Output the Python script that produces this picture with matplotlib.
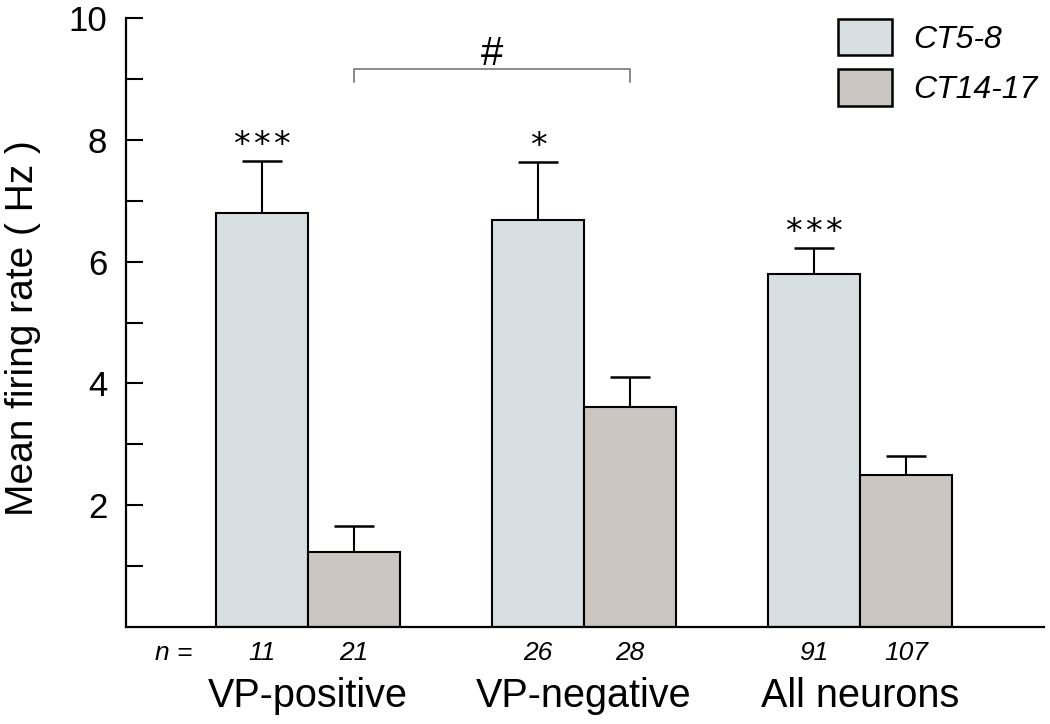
import matplotlib
matplotlib.use("Agg")
import matplotlib.pyplot as plt
import numpy as np
from matplotlib.patches import Patch

# ---- data ----
groups = ["VP-positive", "VP-negative", "All neurons"]
series_names = ["CT5-8", "CT14-17"]
ct58_mean = [6.80, 6.68, 5.80]
ct58_sem = [0.85, 0.95, 0.42]
ct1417_mean = [1.23, 3.62, 2.50]
ct1417_sem = [0.43, 0.48, 0.30]
n_ct58 = ["11", "26", "91"]
n_ct1417 = ["21", "28", "107"]
stars = ["***", "*", "***"]
yticks_major = [2, 4, 6, 8, 10]
yticks_minor = [1, 3, 5, 7, 9]

col58 = "#d8dfe3"
col1417 = "#cbc6c2"

plt.rcParams["font.family"] = ["Liberation Sans", "DejaVu Sans"]

fig = plt.figure(figsize=(10.5, 7.24), dpi=100)
ax = fig.add_axes([0.12, 0.134, 0.8743, 0.841])

x = np.arange(len(groups))
w = 1 / 3
x58 = x - w / 2
x1417 = x + w / 2

ax.bar(x58, ct58_mean, width=w, color=col58, edgecolor="black", linewidth=1.5, zorder=2)
ax.bar(x1417, ct1417_mean, width=w, color=col1417, edgecolor="black", linewidth=1.5, zorder=2)

ax.errorbar(x58, ct58_mean, yerr=[np.zeros(3), ct58_sem], fmt="none", ecolor="black",
            elinewidth=1.5, capsize=14.5, capthick=1.8, zorder=1)
ax.errorbar(x1417, ct1417_mean, yerr=[np.zeros(3), ct1417_sem], fmt="none", ecolor="black",
            elinewidth=1.5, capsize=14.5, capthick=1.8, zorder=1)

ax.set_xlim(-0.659, 2.667)
ax.set_ylim(0, 10)
ax.spines["top"].set_visible(False)
ax.spines["right"].set_visible(False)
ax.spines["left"].set_linewidth(1.6)
ax.spines["bottom"].set_linewidth(1.6)
ax.spines["left"].set_bounds(0, 10)

ax.set_yticks(yticks_major)
ax.set_yticklabels([str(v) for v in yticks_major])
ax.set_yticks(yticks_minor, minor=True)
ax.tick_params(axis="y", which="both", direction="in", length=12.5, width=1.5, pad=13.5,
               labelsize=25)
ax.set_xticks([])
ax.set_ylabel("Mean firing rate ( Hz )", fontsize=28)
ax.yaxis.set_label_coords(-0.0926, 0.491)

# significance stars
for xi, m, s, st in zip(x58, ct58_mean, ct58_sem, stars):
    ax.annotate("\u200a".join(st), xy=(xi, m + s), xytext=(0, 4.5), textcoords="offset points",
                ha="center", va="baseline", fontsize=24, family="DejaVu Sans")

# bracket between CT14-17 of VP-positive and VP-negative
by = 9.16
ax.plot([x1417[0], x1417[0], x1417[1], x1417[1]], [by - 0.21, by, by, by - 0.21],
        color="#777777", lw=1.2, clip_on=False)
ax.annotate("#", xy=((x1417[0] + x1417[1]) / 2, by), xytext=(0, 3),
            textcoords="offset points", ha="center", va="baseline", fontsize=29)

# n labels
trans = ax.get_xaxis_transform()
ax.annotate("n =", xy=(x58[0] - 0.32, 0), xycoords=trans, xytext=(0, -19),
            textcoords="offset points", ha="center", va="center", fontsize=19, style="italic")
for xa, na, xb, nb in zip(x58, n_ct58, x1417, n_ct1417):
    ax.annotate(na, xy=(xa, 0), xycoords=trans, xytext=(0, -19), textcoords="offset points",
                ha="center", va="center", fontsize=19, style="italic")
    ax.annotate(nb, xy=(xb, 0), xycoords=trans, xytext=(0, -19), textcoords="offset points",
                ha="center", va="center", fontsize=19, style="italic")
for xi, g in zip(x, groups):
    ax.annotate(g, xy=(xi, 0), xycoords=trans, xytext=(0, -50), textcoords="offset points",
                ha="center", va="center", fontsize=28.5)

handles = [Patch(facecolor=col58, edgecolor="black", linewidth=1.8),
           Patch(facecolor=col1417, edgecolor="black", linewidth=1.8)]
leg = ax.legend(handles, series_names, loc="upper left",
                bbox_to_anchor=(838 / 1050, 1 - 19 / 724),
                bbox_transform=fig.transFigure, frameon=False,
                prop={"size": 23, "style": "italic"}, handlelength=1.69, handleheight=1.36,
                handletextpad=0.66, labelspacing=0.45, borderpad=0, borderaxespad=0)

fig.savefig("out.png", dpi=100)
